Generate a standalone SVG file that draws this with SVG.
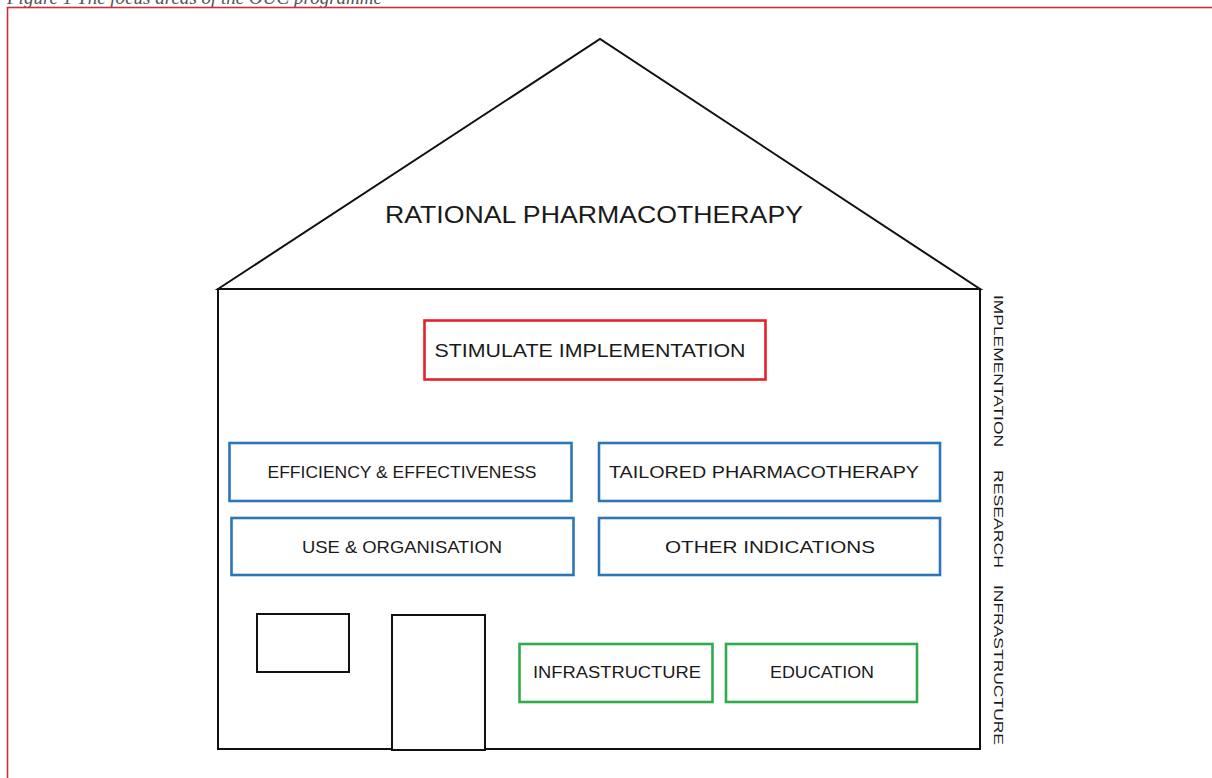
<svg xmlns="http://www.w3.org/2000/svg" width="1212" height="778" viewBox="0 0 1212 778">
<style>
.frame{fill:none;stroke:#c4323d;stroke-width:1.6}
.house{fill:#fff;stroke:#111;stroke-width:2}
.red{fill:#fff;stroke:#e3212b;stroke-width:2.6}
.blue{fill:#fff;stroke:#2e75b6;stroke-width:2.6}
.green{fill:#fff;stroke:#2fab4c;stroke-width:2.6}
.lbl{font-family:"Liberation Sans",Arial,sans-serif;fill:#1a1a1a;text-anchor:middle}
.side{font-family:"Liberation Sans",Arial,sans-serif;fill:#1a1a1a;font-size:13px}
.cap{font-family:"Liberation Serif","Times New Roman",serif;font-style:italic;font-size:19px;fill:#555}
</style>
<rect width="1212" height="778" fill="#fff"/>
<text class="cap" x="7" y="4" textLength="375" lengthAdjust="spacingAndGlyphs">Figure 1 The focus areas of the OUC programme</text>
<rect class="frame" x="7.5" y="7.5" width="1220" height="800"/>
<g id="house">
<polygon class="house" points="218,289 600,39 980,289"/>
<rect class="house" x="218" y="289" width="762" height="460"/>
<text class="lbl" x="594" y="223" font-size="24" textLength="418" lengthAdjust="spacingAndGlyphs" fill="#333">RATIONAL PHARMACOTHERAPY</text>
</g>
<g id="window"><rect class="house" x="257" y="614" width="92" height="58"/></g>
<g id="door"><rect class="house" x="392" y="615" width="93" height="135"/></g>
<g id="stimulate">
<rect class="red" x="424.5" y="320.5" width="341" height="59"/>
<text class="lbl" x="590" y="357" font-size="19" textLength="311" lengthAdjust="spacingAndGlyphs">STIMULATE IMPLEMENTATION</text>
</g>
<g id="efficiency">
<rect class="blue" x="229.5" y="443" width="342" height="58"/>
<text class="lbl" x="402" y="478" font-size="17" textLength="269" lengthAdjust="spacingAndGlyphs">EFFICIENCY &amp; EFFECTIVENESS</text>
</g>
<g id="tailored">
<rect class="blue" x="599" y="443" width="341" height="58"/>
<text class="lbl" x="764" y="478" font-size="17" textLength="310" lengthAdjust="spacingAndGlyphs">TAILORED PHARMACOTHERAPY</text>
</g>
<g id="use">
<rect class="blue" x="231.5" y="518" width="342" height="57"/>
<text class="lbl" x="402" y="553" font-size="17" textLength="200" lengthAdjust="spacingAndGlyphs">USE &amp; ORGANISATION</text>
</g>
<g id="other">
<rect class="blue" x="599" y="518" width="341" height="57"/>
<text class="lbl" x="770" y="553" font-size="17" textLength="210" lengthAdjust="spacingAndGlyphs">OTHER INDICATIONS</text>
</g>
<g id="infrastructure">
<rect class="green" x="519.5" y="644" width="193" height="58"/>
<text class="lbl" x="617" y="678" font-size="16" textLength="168" lengthAdjust="spacingAndGlyphs">INFRASTRUCTURE</text>
</g>
<g id="education">
<rect class="green" x="726" y="644" width="191" height="58"/>
<text class="lbl" x="822" y="678" font-size="16" textLength="104" lengthAdjust="spacingAndGlyphs">EDUCATION</text>
</g>
<g id="side-labels">
<text class="side" transform="translate(994,295) rotate(90)" textLength="152" lengthAdjust="spacingAndGlyphs">IMPLEMENTATION</text>
<text class="side" transform="translate(994,470) rotate(90)" textLength="98" lengthAdjust="spacingAndGlyphs">RESEARCH</text>
<text class="side" transform="translate(994,585) rotate(90)" textLength="160" lengthAdjust="spacingAndGlyphs">INFRASTRUCTURE</text>
</g>
<g id="connectors"></g>
</svg>
